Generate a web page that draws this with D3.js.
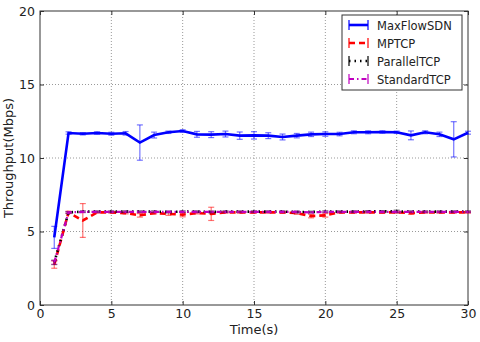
<!DOCTYPE html>
<html>
<head>
<meta charset="utf-8">
<script src="https://cdn.jsdelivr.net/npm/d3@7/dist/d3.min.js"></script>
<style>
  body { margin: 0; background: #fff; }
  svg text { font-family: "DejaVu Sans", sans-serif; fill: #222; }
</style>
</head>
<body>
<div id="chart"></div>
<script>
// ---- data ----
var time = [1,2,3,4,5,6,7,8,9,10,11,12,13,14,15,16,17,18,19,20,21,22,23,24,25,26,27,28,29,30];

var sdn    = [4.6,11.7,11.65,11.7,11.65,11.68,11.05,11.56,11.75,11.84,11.61,11.59,11.63,11.52,11.54,
              11.52,11.43,11.52,11.61,11.63,11.63,11.75,11.75,11.77,11.75,11.54,11.75,11.61,11.27,11.72];
var sdnErr = [0.75,0.08,0.08,0.08,0.1,0.12,1.2,0.2,0.08,0.08,0.2,0.2,0.2,0.25,0.25,
              0.2,0.2,0.15,0.15,0.15,0.12,0.1,0.1,0.08,0.08,0.3,0.1,0.15,1.2,0.1];

var mptcp    = [2.75,6.3,5.75,6.3,6.3,6.25,6.1,6.25,6.2,6.15,6.25,6.2,6.3,6.3,6.3,
                6.3,6.3,6.25,6.05,6.1,6.3,6.3,6.3,6.3,6.3,6.25,6.3,6.3,6.3,6.3];
var mptcpErr = [0.25,0.08,1.15,0.05,0.05,0.05,0.12,0.05,0.1,0.15,0.05,0.45,0.05,0.05,0.05,
                0.05,0.05,0.08,0.12,0.12,0.05,0.05,0.05,0.05,0.05,0.08,0.05,0.05,0.05,0.05];

var parallel    = [2.9,6.3,6.35,6.35,6.35,6.35,6.35,6.35,6.33,6.35,6.35,6.33,6.35,6.35,6.35,
                   6.35,6.35,6.33,6.33,6.35,6.35,6.35,6.37,6.37,6.37,6.35,6.35,6.35,6.35,6.35];
var parallelErr = [0.15,0.05,0.05,0.05,0.05,0.05,0.05,0.05,0.05,0.05,0.05,0.05,0.05,0.05,0.05,
                   0.05,0.05,0.05,0.05,0.05,0.05,0.05,0.05,0.05,0.08,0.05,0.05,0.05,0.05,0.05];

var standard    = [2.9,6.3,6.33,6.33,6.33,6.33,6.33,6.33,6.33,6.33,6.33,6.33,6.33,6.33,6.33,
                   6.33,6.33,6.33,6.3,6.33,6.33,6.33,6.33,6.33,6.33,6.33,6.33,6.33,6.33,6.33];
var standardErr = [0.12,0.05,0.05,0.05,0.05,0.05,0.05,0.05,0.05,0.05,0.05,0.05,0.05,0.05,0.05,
                   0.05,0.05,0.05,0.05,0.05,0.05,0.05,0.05,0.05,0.05,0.05,0.05,0.05,0.05,0.05];

var xTicks = [0,5,10,15,20,25,30];
var yTicks = [0,5,10,15,20];

var series = [
  {name: "MaxFlowSDN",  vals: sdn,      err: sdnErr,      color: "#0000ff", dash: null,       width: 2.6},
  {name: "MPTCP",       vals: mptcp,    err: mptcpErr,    color: "#ff0000", dash: "6,4",      width: 2.6},
  {name: "ParallelTCP", vals: parallel, err: parallelErr, color: "#000000", dash: "1.5,4",    width: 2.6},
  {name: "StandardTCP", vals: standard, err: standardErr, color: "#bf00bf", dash: "5,3,1.5,3", width: 2.2}
];

// ---- chart ----
var W = 480, H = 342;
var margin = {top: 11, right: 12, bottom: 37, left: 40};
var width = W - margin.left - margin.right,
    height = H - margin.top - margin.bottom;

var svg = d3.select("#chart").append("svg")
    .attr("width", W).attr("height", H);

var g = svg.append("g")
    .attr("transform", "translate(" + margin.left + "," + margin.top + ")");

var x = d3.scaleLinear().domain([0, 30]).range([0, width]);
var y = d3.scaleLinear().domain([0, 20]).range([height, 0]);

// grid
g.append("g").selectAll("line")
  .data(xTicks.slice(1, -1)).enter().append("line")
    .attr("x1", d => x(d)).attr("x2", d => x(d))
    .attr("y1", 0).attr("y2", height)
    .attr("stroke", "#999").attr("stroke-width", 1).attr("stroke-dasharray", "1,2");
g.append("g").selectAll("line")
  .data(yTicks.slice(1, -1)).enter().append("line")
    .attr("y1", d => y(d)).attr("y2", d => y(d))
    .attr("x1", 0).attr("x2", width)
    .attr("stroke", "#999").attr("stroke-width", 1).attr("stroke-dasharray", "1,2");

// axes with inward ticks
var xAxis = g.append("g").attr("transform", "translate(0," + height + ")")
    .call(d3.axisBottom(x).tickValues(xTicks).tickSizeInner(-4).tickSizeOuter(0).tickPadding(4));
var xAxisTop = g.append("g")
    .call(d3.axisTop(x).tickValues(xTicks).tickSizeInner(-4).tickSizeOuter(0).tickFormat(""));
var yAxis = g.append("g")
    .call(d3.axisLeft(y).tickValues(yTicks).tickSizeInner(-4).tickSizeOuter(0).tickPadding(5));
var yAxisR = g.append("g").attr("transform", "translate(" + width + ",0)")
    .call(d3.axisRight(y).tickValues(yTicks).tickSizeInner(-4).tickSizeOuter(0).tickFormat(""));

[xAxis, xAxisTop, yAxis, yAxisR].forEach(function (a) {
  a.select(".domain").remove();
  a.selectAll(".tick line").attr("stroke", "#333");
  a.selectAll("text").style("font-size", "12.5px").style("font-family", "DejaVu Sans, sans-serif").attr("fill", "#222");
});

// frame
g.append("rect").attr("width", width).attr("height", height)
  .attr("fill", "none").attr("stroke", "#333").attr("stroke-width", 1);

// series
var line = d3.line().x((d, i) => x(time[i])).y(d => y(d));

series.forEach(function (s) {
  var sg = g.append("g");
  // error bars
  var eb = sg.selectAll(".eb").data(s.vals).enter().append("g")
      .attr("stroke", s.color).attr("stroke-opacity", 0.55).attr("stroke-width", 1.2);
  eb.append("line")
    .attr("x1", (d, i) => x(time[i])).attr("x2", (d, i) => x(time[i]))
    .attr("y1", (d, i) => y(d - s.err[i])).attr("y2", (d, i) => y(d + s.err[i]));
  eb.append("line")
    .attr("x1", (d, i) => x(time[i]) - 3).attr("x2", (d, i) => x(time[i]) + 3)
    .attr("y1", (d, i) => y(d - s.err[i])).attr("y2", (d, i) => y(d - s.err[i]));
  eb.append("line")
    .attr("x1", (d, i) => x(time[i]) - 3).attr("x2", (d, i) => x(time[i]) + 3)
    .attr("y1", (d, i) => y(d + s.err[i])).attr("y2", (d, i) => y(d + s.err[i]));
  // line
  sg.append("path").datum(s.vals)
    .attr("d", line)
    .attr("fill", "none")
    .attr("stroke", s.color)
    .attr("stroke-width", s.width)
    .attr("stroke-dasharray", s.dash);
});

// axis labels
svg.append("text")
  .attr("x", margin.left + width / 2).attr("y", 334)
  .attr("text-anchor", "middle").style("font-size", "13px")
  .text("Time(s)");
svg.append("text")
  .attr("transform", "translate(13," + (margin.top + height / 2) + ") rotate(-90)")
  .attr("text-anchor", "middle").style("font-size", "13px")
  .text("Throughput(Mbps)");

// legend
var lg = svg.append("g").attr("transform", "translate(342,15)");
lg.append("rect").attr("width", 120).attr("height", 75)
  .attr("fill", "#fff").attr("stroke", "#333").attr("stroke-width", 1);
series.forEach(function (s, i) {
  var row = lg.append("g").attr("transform", "translate(0," + (10 + i * 18) + ")");
  row.append("line").attr("x1", 7).attr("x2", 26).attr("y1", 0).attr("y2", 0)
    .attr("stroke", s.color).attr("stroke-width", s.width).attr("stroke-dasharray", s.dash);
  [7, 26].forEach(function (cx) {
    row.append("line").attr("x1", cx).attr("x2", cx).attr("y1", -5).attr("y2", 5)
      .attr("stroke", s.color).attr("stroke-width", 1.2);
  });
  row.append("text").attr("x", 35).attr("y", 4.5)
    .style("font-size", "11.5px").text(s.name);
});
</script>
</body>
</html>
